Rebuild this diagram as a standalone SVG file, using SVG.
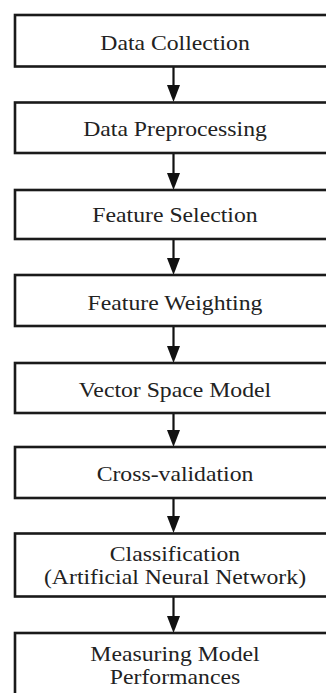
<svg xmlns="http://www.w3.org/2000/svg" width="326" height="693" viewBox="0 0 326 693">
<style>
.box{fill:#fff;stroke:#1a1a1a;stroke-width:2.6}
.t{font-family:"Liberation Serif","Times New Roman",serif;font-size:21px;fill:#222;text-anchor:middle}
.ln{stroke:#111;stroke-width:2.2;fill:none}
.hd{fill:#111}
</style>
<rect width="326" height="693" fill="#fff"/>
<g id="connectors">
<line class="ln" x1="173.5" y1="66.5" x2="173.5" y2="88"/><polygon class="hd" points="167,85 180,85 173.5,102"/>
<line class="ln" x1="173.5" y1="153" x2="173.5" y2="176"/><polygon class="hd" points="167,173 180,173 173.5,190"/>
<line class="ln" x1="173.5" y1="239" x2="173.5" y2="261"/><polygon class="hd" points="167,258 180,258 173.5,275"/>
<line class="ln" x1="173.5" y1="326" x2="173.5" y2="349"/><polygon class="hd" points="167,346 180,346 173.5,363"/>
<line class="ln" x1="173.5" y1="413" x2="173.5" y2="433"/><polygon class="hd" points="167,430 180,430 173.5,447"/>
<line class="ln" x1="173.5" y1="498" x2="173.5" y2="519"/><polygon class="hd" points="167,516 180,516 173.5,533"/>
<line class="ln" x1="173.5" y1="596.5" x2="173.5" y2="619"/><polygon class="hd" points="167,616 180,616 173.5,633"/>
</g>
<g id="n1"><rect class="box" x="15" y="15" width="330" height="51.5"/><text class="t" transform="translate(175,49.5) scale(1.13,1)">Data Collection</text></g>
<g id="n2"><rect class="box" x="15" y="102.5" width="330" height="50.5"/><text class="t" transform="translate(175,135.8) scale(1.13,1)">Data Preprocessing</text></g>
<g id="n3"><rect class="box" x="15" y="190" width="330" height="49"/><text class="t" transform="translate(175,221.5) scale(1.13,1)">Feature Selection</text></g>
<g id="n4"><rect class="box" x="15" y="275" width="330" height="51"/><text class="t" transform="translate(175,309.5) scale(1.13,1)">Feature Weighting</text></g>
<g id="n5"><rect class="box" x="15" y="363" width="330" height="50"/><text class="t" transform="translate(175,396.5) scale(1.13,1)">Vector Space Model</text></g>
<g id="n6"><rect class="box" x="15" y="447" width="330" height="51"/><text class="t" transform="translate(175,481) scale(1.13,1)">Cross-validation</text></g>
<g id="n7"><rect class="box" x="15" y="533.5" width="330" height="63"/><text class="t" transform="translate(175,560.7) scale(1.13,1)">Classification</text><text class="t" transform="translate(175,584) scale(1.13,1)">(Artificial Neural Network)</text></g>
<g id="n8"><rect class="box" x="15" y="633" width="330" height="80"/><text class="t" transform="translate(175,660.7) scale(1.13,1)">Measuring Model</text><text class="t" transform="translate(175,684) scale(1.13,1)">Performances</text></g>
</svg>
